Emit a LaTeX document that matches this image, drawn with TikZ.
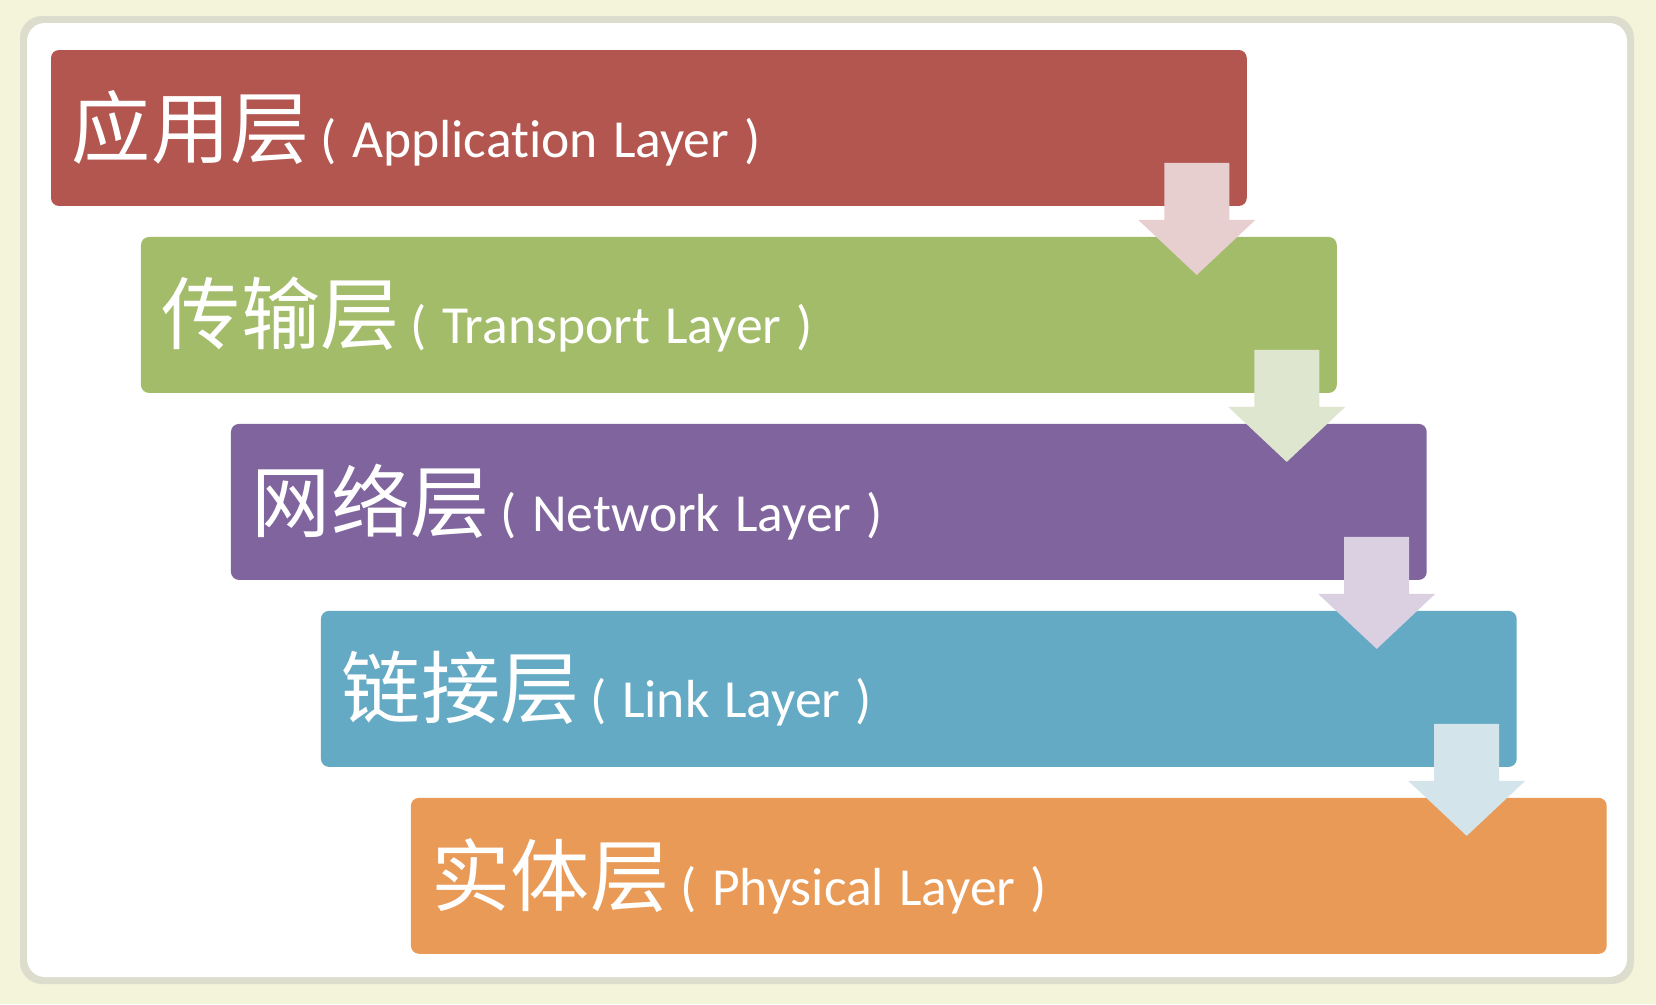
\documentclass[tikz,border=0pt]{standalone}
\usepackage{fontspec}
\setmainfont[Ligatures=NoCommon]{Carlito}
\newfontfamily\cjkfont{Noto Sans CJK SC}
\usetikzlibrary{positioning}
\usetikzlibrary{calc}

\definecolor{bgbeige}{HTML}{F4F4DB}
\definecolor{framegray}{HTML}{DCDDCC}
\definecolor{appred}{HTML}{B3564F}
\definecolor{transgreen}{HTML}{A3BC6A}
\definecolor{netpurple}{HTML}{7F649D}
\definecolor{linkblue}{HTML}{64AAC5}
\definecolor{physorange}{HTML}{E99A56}
\definecolor{apparrow}{HTML}{E8CFCF}
\definecolor{transarrow}{HTML}{DEE6CF}
\definecolor{netarrow}{HTML}{DAD0E2}
\definecolor{linkarrow}{HTML}{D4E4EB}

\newcommand{\cnname}[1]{{\cjkfont\fontsize{45pt}{50pt}\selectfont #1}}
\newcommand{\enname}[1]{{\fontsize{30.5pt}{34pt}\selectfont\spaceskip=0.28em\relax\hspace{0.22em}( #1 )}}

\tikzset{
  layer/.style={rectangle, rounded corners=0.16cm, minimum width=23.92cm,
    minimum height=3.12cm, text width=23.08cm, inner xsep=0.42cm,
    inner ysep=0pt, outer sep=0pt, align=left, text=white}
}

\begin{document}
\begin{tikzpicture}[x=0.02cm, y=-0.02cm]

  % Frame
  \fill[bgbeige] (0,0) rectangle (1656,1004);
  \fill[framegray, rounded corners=0.44cm] (20,16) rectangle (1634,984);
  \fill[white, rounded corners=0.36cm] (27,23) rectangle (1627,977);

  % Define nodes
  \node[layer, fill=appred, anchor=north west] (app) at (51,50)
    {\cnname{应用层}\enname{Application Layer}};
  \node[layer, fill=transgreen, below=0.62cm of app.south west, anchor=north west, xshift=1.8cm] (trans)
    {\cnname{传输层}\enname{Transport Layer}};
  \node[layer, fill=netpurple, below=0.62cm of trans.south west, anchor=north west, xshift=1.8cm] (net)
    {\cnname{网络层}\enname{Network Layer}};
  \node[layer, fill=linkblue, below=0.62cm of net.south west, anchor=north west, xshift=1.8cm] (link)
    {\cnname{链接层}\enname{Link Layer}};
  \node[layer, fill=physorange, below=0.62cm of link.south west, anchor=north west, xshift=1.8cm] (phys)
    {\cnname{实体层}\enname{Physical Layer}};

  % Connect the nodes
  \foreach \src/\col in {app/apparrow, trans/transarrow, net/netarrow, link/linkarrow}
    \fill[\col] ($(\src.south east)+(-82.5,-43)$) -- ++(65,0) -- ++(0,57) -- ++(26,0)
      -- ++(-58.5,55) -- ++(-58.5,-55) -- ++(26,0) -- cycle;

\end{tikzpicture}
\end{document}
